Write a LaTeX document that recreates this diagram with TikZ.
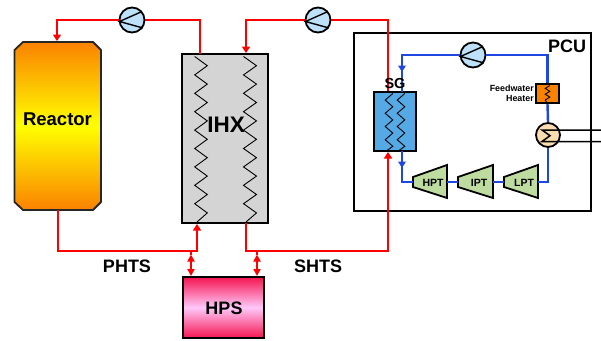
\documentclass[tikz,border=0pt]{standalone}
\usepackage{fontspec}
\setmainfont{Liberation Sans}
\usetikzlibrary{arrows.meta,calc,positioning}
\definecolor{pipered}{RGB}{255,0,0}
\definecolor{pipeblue}{RGB}{30,70,225}
\definecolor{pumpblue}{RGB}{190,225,250}
\definecolor{sgblue}{RGB}{85,170,230}
\definecolor{turbgreen}{RGB}{190,220,160}
\definecolor{heatorange}{RGB}{250,130,0}
\definecolor{condtan}{RGB}{250,220,175}
\definecolor{hpsred}{RGB}{245,20,80}
\definecolor{hpspink}{RGB}{255,200,250}
\tikzset{
	redpipe/.style={draw=pipered,line width=2.4pt},
	bluepipe/.style={draw=pipeblue,line width=2.4pt},
	redhead/.style={-{Triangle[length=6.5pt,width=8pt]}},
	bluehead/.style={-{Triangle[length=6.5pt,width=7.5pt]}},
	twohead/.style={{Triangle[length=7pt,width=7pt]}-{Triangle[length=7pt,width=7pt]}},
	pump/.style={circle,draw=black,line width=1.8pt,fill=pumpblue,minimum size=25pt,inner sep=0pt},
	unitbox/.style={rectangle,draw=black,line width=2pt,inner sep=0pt},
	turbine/.style={draw=black,line width=1.8pt,fill=turbgreen},
	coilline/.style={draw=black,line width=.9pt},
	boldlabel/.style={font=\bfseries\fontsize{#1}{#1}\selectfont,inner sep=0pt}
}
\newcommand{\pumpblades}[1]{
	\draw[line width=1.4pt] ($(#1.center)+(10,-8.5)$) -- ($(#1.center)+(-12.5,1.5)$) -- ($(#1.center)+(11,8)$);
}
% centre x, first y, step y, half width, last index, end point
\newcommand{\coilpath}[6]{
	\draw[coilline] ({#1-#4},#2) \foreach \i in {1,...,#5} { -- ({#1-#4+2*#4*mod(\i,2)},{#2+#3*\i}) } -- #6;
}
\begin{document}
\begin{tikzpicture}[x=1pt,y=-1pt]
	\useasboundingbox (0,0) rectangle (601,340);
	% primary and secondary units
	\path[draw=black!85,line width=1.8pt,line join=round,top color=heatorange,bottom color=heatorange,middle color=yellow] (23,42) -- (93,42) -- (101,50) -- (101,202) -- (93,210) -- (23,210) -- (14.5,202) -- (14.5,50) -- cycle;
	\node[boldlabel=18.5] (reactor) at (57.5,119.5) {Reactor};
	\node[unitbox,fill=black!17,minimum width=86pt,minimum height=169pt] (ihx) at (225,138.5) {};
	\node[unitbox,minimum width=81pt,minimum height=61pt,top color=hpsred,bottom color=hpsred,middle color=hpspink] (hps) at (223.5,307.5) {};
	\node[boldlabel=18] (hpslabel) at (224,308) {HPS};
	% pcu
	\node[unitbox,minimum width=237pt,minimum height=178pt] (pcu) at (472.5,122) {};
	\node[boldlabel=18] (pculabel) at (567,46) {PCU};
	% pipes of the two loops
	\node[pump] (pumpa) at (132,20) {};
	\node[pump] (pumpb) at (318,20) {};
	\coordinate (reactorin) at (57,41);
	\coordinate (ihxout) at (200,54);
	\coordinate (ihxin) at (246,53);
	\coordinate (sgin) at (388,92);
	\coordinate (reactorout) at (58,210);
	\coordinate (ihxret) at (197,224);
	\coordinate (ihxdown) at (246,223);
	\coordinate (sgret) at (388,152);
	\coordinate (phtsjoin) at (191,251);
	\coordinate (shtsjoin) at (257,251);
	\coordinate (phtstip) at (191,254.5);
	\coordinate (shtstip) at (257,254.5);
	\draw[redpipe,redhead] (pumpa.west) -| (reactorin);
	\draw[redpipe] (pumpa.east) -| (ihxout);
	\draw[redpipe,redhead] (pumpb.west) -| (ihxin);
	\draw[redpipe] (pumpb.east) -| (sgin);
	\draw[redpipe,redhead] (reactorout) |- (phtsjoin) -| (ihxret);
	\draw[redpipe,redhead] (ihxdown) |- (shtsjoin) -| (sgret);
	\draw[redpipe] (phtsjoin) -- (phtstip);
	\draw[redpipe] (shtsjoin) -- (shtstip);
	\draw[redpipe,twohead] (phtstip) -- (phtstip |- hps.north);
	\draw[redpipe,twohead] (shtstip) -- (shtstip |- hps.north);
	\node[boldlabel=18] (phtslabel) at (127,266) {PHTS};
	\node[boldlabel=18] (shtslabel) at (318,266) {SHTS};
	\foreach \p in {pumpa,pumpb} {\pumpblades{\p}}
	% coils of the ihx
	\coilpath{201}{56.5}{9.2}{6.3}{17}{(197,222)}
	\coilpath{250}{56.5}{9.2}{6.5}{17}{(246,222)}
	\node[boldlabel=22.5] (ihxlabel) at (226,124.5) {IHX};
	% power conversion loop
	\node[pump] (pumpc) at (473,55) {};
	\pumpblades{pumpc}
	\node[unitbox,fill=sgblue,minimum width=42pt,minimum height=59pt] (sg) at (395,121.5) {};
	\coilpath{389}{93.5}{6.6}{-3.8}{8}{(387,150.5)}
	\coilpath{401}{93.5}{6.6}{-3.8}{8}{(399,150.5)}
	\node[unitbox,fill=heatorange,minimum width=23pt,minimum height=19pt] (heater) at (547.5,93.5) {};
	\coilpath{547.5}{85.5}{2.9}{-2.3}{5}{(546.5,102)}
	\node[align=right,anchor=east,inner sep=0pt,font=\bfseries\fontsize{8.9}{9.6}\selectfont] (heaterlabel) at (534,93.5) {Feedwater\\Heater};
	\node[circle,draw=black,line width=1.8pt,fill=condtan,minimum size=24pt,inner sep=0pt] (cond) at (548,135) {};
	\path[turbine] (413,177) -- (447,165) -- (447,198) -- (413,187) -- cycle;
	\path[turbine] (458,177) -- (493,165) -- (493,198) -- (458,187) -- cycle;
	\path[turbine] (504,177) -- (538,165) -- (538,198) -- (504,187) -- cycle;
	\node[boldlabel=10.5] (hpt) at (433,182.5) {HPT};
	\node[boldlabel=10.5] (ipt) at (479,182.5) {IPT};
	\node[boldlabel=10.5] (lpt) at (524,182.5) {LPT};
	\coordinate (hptin) at (413,182);
	\coordinate (hptout) at (447,182);
	\coordinate (iptin) at (458,182);
	\coordinate (iptout) at (493,182);
	\coordinate (lptin) at (504,182);
	\coordinate (lptout) at (538,182);
	\coordinate (sgtop) at (402,92);
	\coordinate (sgbot) at (402,151);
	\coordinate (blueturn) at (402,55);
	\coordinate (bluetipa) at (402,72);
	\coordinate (bluetipb) at (402,168);
	\draw[bluepipe] (pumpc.west) -| (sgtop);
	\draw[bluepipe,bluehead] (blueturn) -- (bluetipa);
	\draw[bluepipe] (pumpc.east) -| (heater.north);
	\draw[bluepipe] (heater.south) -- (cond.north);
	\draw[bluepipe] (cond.south) |- (lptout);
	\draw[bluepipe] (lptin) -- (iptout);
	\draw[bluepipe] (iptin) -- (hptout);
	\draw[bluepipe] (hptin) -| (sgbot);
	\draw[bluepipe,bluehead] (sgbot) -- (bluetipb);
	\node[boldlabel=14.5] (sglabel) at (395,84) {SG};
	% condenser
	\coordinate (coldin) at (601,130);
	\coordinate (coldout) at (601,141.5);
	\draw[line width=1.5pt] (coldin) -- (542,130) -- (550,135.7) -- (542,141.5) -- (coldout);
\end{tikzpicture}
\end{document}
